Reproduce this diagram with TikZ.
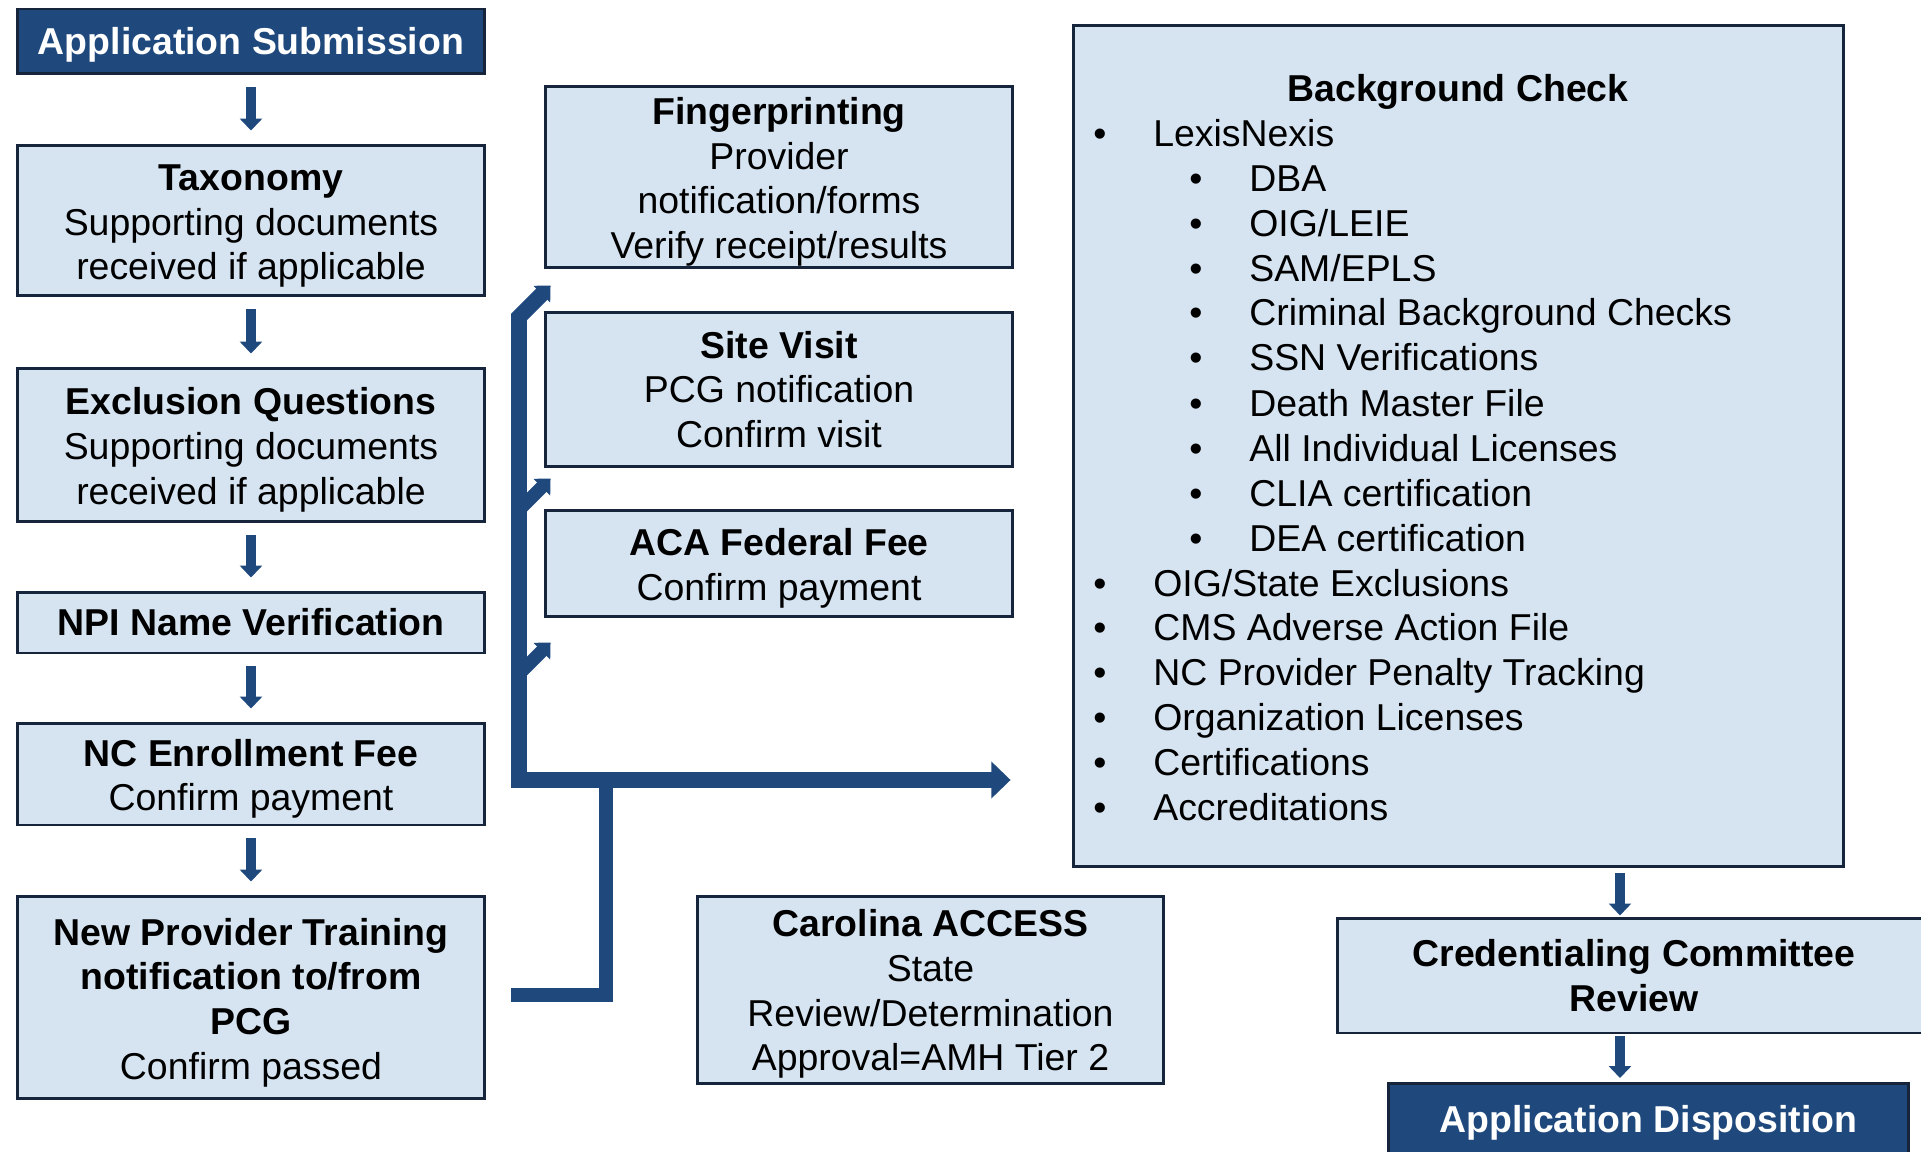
\documentclass[tikz,border=0pt]{standalone}
\usepackage{fontspec}
\setmainfont{Liberation Sans}
\usetikzlibrary{arrows.meta,calc}

\definecolor{navy}{RGB}{31,73,125}
\definecolor{paleblue}{RGB}{214,228,241}
\definecolor{edge}{RGB}{23,37,60}
\newcommand{\bul}{\makebox[12mm][l]{\textbullet}}
% taller first line, pushes the box text down a little
\newcommand{\topgap}{\rule{0pt}{21pt}}

\begin{document}
\begin{tikzpicture}[x=0.02cm, y=-0.02cm]
	\tikzstyle{every node} = [font=\fontsize{21.3}{25.4}\selectfont, inner sep=0pt]
	\tikzstyle{lightbox} = [draw=edge, line width=1.7pt, fill=paleblue, align=center]
	\tikzstyle{darkbox} = [lightbox, fill=navy, text=white, font=\fontsize{21.3}{25.4}\selectfont\bfseries]
	\tikzstyle{listtext} = [anchor=base west]
	\tikzstyle{down} = [draw=navy, line width=6.2pt, -{Triangle[width=12.5pt,length=6.8pt]}]
	\tikzstyle{feed} = [draw=navy, line width=9pt]
	\useasboundingbox (0,0) rectangle (1921,1152);
	\fill[white] (0,0) rectangle (1921,1152);
	% left column
	\node[darkbox, minimum width=9.36cm, minimum height=1.3cm] (sub) at (251,41.5) {\rule{0pt}{19.5pt}Application Submission};
	\node[lightbox, minimum width=9.36cm, minimum height=3.02cm] (tax) at (251,220.5) {\topgap\textbf{Taxonomy}\\Supporting documents\\received if applicable};
	\node[lightbox, minimum width=9.36cm, minimum height=3.08cm] (excl) at (251,445) {\topgap\textbf{Exclusion Questions}\\Supporting documents\\received if applicable};
	\node[lightbox, minimum width=9.36cm, minimum height=1.22cm] (npi) at (251,622.5) {\textbf{NPI Name Verification}};
	\node[lightbox, minimum width=9.36cm, minimum height=2.04cm] (ncfee) at (251,774) {\topgap\textbf{NC Enrollment Fee}\\Confirm payment};
	\node[lightbox, minimum width=9.36cm, minimum height=4.06cm] (train) at (251,997.5) {\topgap\textbf{New Provider Training}\\\textbf{notification to/from}\\\textbf{PCG}\\Confirm passed};
	\draw[down, shorten <=6.8pt, shorten >=7.4pt] (sub) -- (tax);
	\draw[down, shorten <=6.8pt, shorten >=7.4pt] (tax) -- (excl);
	\draw[down, shorten <=6.8pt, shorten >=7.4pt] (excl) -- (npi);
	\draw[down, shorten <=6.8pt, shorten >=7.4pt] (npi) -- (ncfee);
	\draw[down, shorten <=6.8pt, shorten >=7.4pt] (ncfee) -- (train);
	% middle column
	\node[lightbox, minimum width=9.36cm, minimum height=3.64cm] (finger) at (779,177) {\topgap\textbf{Fingerprinting}\\Provider\\notification/forms\\Verify receipt/results};
	\node[lightbox, minimum width=9.36cm, minimum height=3.1cm] (site) at (779,389.5) {\textbf{Site Visit}\\PCG notification\\Confirm visit};
	\node[lightbox, minimum width=9.36cm, minimum height=2.14cm] (aca) at (779,563.5) {\topgap\textbf{ACA Federal Fee}\\Confirm payment};
	\node[lightbox, minimum width=9.34cm, minimum height=3.76cm] (carolina) at (930.5,990) {\rule{0pt}{20pt}\textbf{Carolina ACCESS}\\State\\Review/Determination\\Approval=AMH Tier 2};
	% background check
	\node[lightbox, minimum width=15.42cm, minimum height=16.84cm] (bg) at (1458.5,446) {};
	\node[anchor=base, font=\fontsize{21.3}{25.4}\selectfont\bfseries] (bgTitle) at (1458,102) {Background Check};
	\node[listtext] (lexis) at (1093,147) {\bul LexisNexis};
	\node[listtext] (dba) at (1189,192) {\bul DBA};
	\node[listtext] (oigleie) at (1189,237) {\bul OIG/LEIE};
	\node[listtext] (sam) at (1189,282) {\bul SAM/EPLS};
	\node[listtext] (criminal) at (1189,326) {\bul Criminal Background Checks};
	\node[listtext] (ssn) at (1189,371) {\bul SSN Verifications};
	\node[listtext] (death) at (1189,416) {\bul Death Master File};
	\node[listtext] (licenses) at (1189,461) {\bul All Individual Licenses};
	\node[listtext] (clia) at (1189,506) {\bul CLIA certification};
	\node[listtext] (dea) at (1189,551) {\bul DEA certification};
	\node[listtext] (oigstate) at (1093,596) {\bul OIG/State Exclusions};
	\node[listtext] (cms) at (1093,640) {\bul CMS Adverse Action File};
	\node[listtext] (penalty) at (1093,685) {\bul NC Provider Penalty Tracking};
	\node[listtext] (orglic) at (1093,730) {\bul Organization Licenses};
	\node[listtext] (certs) at (1093,775) {\bul Certifications};
	\node[listtext] (accred) at (1093,820) {\bul Accreditations};
	% right column
	\node[lightbox, minimum width=11.88cm, minimum height=2.3cm] (cred) at (1634,975.5) {\textbf{Credentialing Committee}\\\textbf{Review}};
	\node[darkbox, minimum width=10.42cm, minimum height=1.6cm] (disp) at (1648.5,1123) {Application Disposition};
	\coordinate (rx) at (1620,0);
	\draw[down, shorten <=2.8pt, shorten >=0.6pt] (bg.south -| rx) -- (cred.north -| rx);
	\draw[down, shorten <=0.6pt, shorten >=2pt] (cred.south -| rx) -- (disp.north -| rx);
	% bracket feeding the checks
	\coordinate (fpTip) at ($(finger.south west)+(7,16)$);
	\coordinate (svTip) at ($(site.south west)+(7,10)$);
	\coordinate (acaTip) at ($(aca.south west)+(7,24)$);
	\coordinate (barTop) at (519,317);
	\coordinate (barBend) at (519,780);
	\coordinate (bgIn) at ($(bg.west |- barBend)+(-61,0)$);
	\coordinate (trOut) at (511,995);
	\coordinate (join) at (606,780);
	\draw[feed, {Triangle[width=13pt,length=7pt]}-{Triangle[width=20.5pt,length=11pt]}] (fpTip) -- (barTop) -- (barBend) -- (bgIn);
	\draw[feed, line width=7.5pt, -{Triangle[width=13pt,length=7pt]}] ($(svTip)+(-33,33)$) -- (svTip);
	\draw[feed, line width=7.5pt, -{Triangle[width=13pt,length=7pt]}] ($(acaTip)+(-33,33)$) -- (acaTip);
	\draw[feed, line width=8.5pt] (trOut) -| (join);
\end{tikzpicture}
\end{document}
